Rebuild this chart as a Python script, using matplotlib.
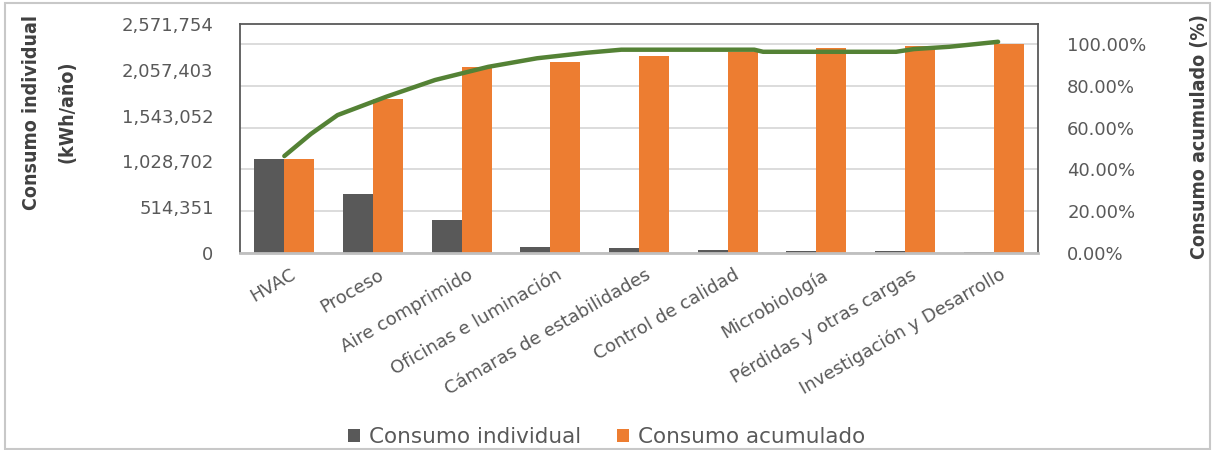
import numpy as np
import matplotlib
matplotlib.use("Agg")
import matplotlib.pyplot as plt
from matplotlib.patches import Rectangle

# data
categorias = ["HVAC", "Proceso", "Aire comprimido", "Oficinas e luminación",
              "Cámaras de estabilidades", "Control de calidad", "Microbiología",
              "Pérdidas y otras cargas", "Investigación y Desarrollo"]
individual = [1059000, 659000, 371000, 71000, 53000, 30000, 25000, 22000, 8000]
acumulado = [1059000, 1726000, 2085000, 2145000, 2212000, 2261000, 2299000, 2325000, 2347000]

# the green curve, read at several positions along the category axis
linea_pos = [0, 0.3, 0.6, 1.15, 1.7, 2.3, 2.85, 3.4, 3.8, 5.3, 5.4, 6.9, 7.1, 7.5, 7.8, 8.05]
linea_pct = [46.4, 57.0, 66.0, 74.8, 82.8, 89.1, 93.2, 95.8, 97.3, 97.3, 96.3, 96.3, 97.6, 98.7, 100.0, 101.1]

izq_ticks = [0, 514351, 1028702, 1543052, 2057403, 2571754]
izq_labels = ["0", "514,351", "1,028,702", "1,543,052", "2,057,403", "2,571,754"]
der_ticks = [0, 20, 40, 60, 80, 100]
der_max = 109.6

c_gris = "#595959"
c_naranja = "#ED7D31"
c_verde = "#548235"
c_texto = "#595959"
c_titulo = "#404040"

fig = plt.figure(figsize=(12.13, 4.5), dpi=100)
W, H = 1213, 450
ax_rect = [240 / W, 1 - 253 / H, (1038 - 240) / W, (253 - 24) / H]

# percent axis at the back: carries the gridlines and right ticks
ax2 = fig.add_axes(ax_rect)
ax2.set_ylim(0, der_max)
ax2.set_yticks(der_ticks)
ax2.set_yticklabels(["%.2f%%" % v for v in der_ticks])
ax2.yaxis.tick_right()
ax2.set_xticks([])
ax2.grid(axis="y", color="#d9d9d9", linewidth=1.3)
ax2.tick_params(axis="y", length=0, pad=21, labelsize=13, labelcolor=c_texto)
for s in ax2.spines.values():
    s.set_visible(False)

# bars on the left axis
ax = fig.add_axes(ax_rect)
ax.patch.set_visible(False)
x = np.arange(len(categorias))
w = 0.34
ax.bar(x - w / 2, individual, w, color=c_gris, label="Consumo individual")
ax.bar(x + w / 2, acumulado, w, color=c_naranja, label="Consumo acumulado")
ax.set_xlim(-0.5, len(categorias) - 0.5)
ax.set_ylim(0, izq_ticks[-1])
ax.set_yticks(izq_ticks)
ax.set_yticklabels(izq_labels)
ax.set_xticks(x + 0.06)
ax.set_xticklabels(categorias, rotation=30, ha="right", rotation_mode="anchor")
ax.tick_params(axis="y", length=0, pad=19, labelsize=13, labelcolor=c_texto)
ax.tick_params(axis="x", length=0, pad=9, labelsize=13, labelcolor=c_texto)
for k in ["left", "top", "right"]:
    ax.spines[k].set_color(c_gris)
    ax.spines[k].set_linewidth(1.3)
ax.spines["bottom"].set_color("#bfbfbf")
ax.spines["bottom"].set_linewidth(2)

# green curve on top
ax3 = fig.add_axes(ax_rect)
ax3.patch.set_visible(False)
ax3.set_xlim(-0.5, len(categorias) - 0.5)
ax3.set_ylim(0, der_max)
ax3.plot(linea_pos, linea_pct, color=c_verde, linewidth=3.2, solid_capstyle="round")
ax3.axis("off")

titulo = dict(rotation=90, ha="center", va="center", fontsize=14, fontweight="bold",
              color=c_titulo, family="DejaVu Sans", fontstretch="condensed")
fig.text(32 / W, 1 - 112 / H, "Consumo individual", **titulo)
fig.text(67 / W, 1 - 112 / H, "(kWh/año)", **titulo)
fig.text(1199 / W, 1 - 137 / H, "Consumo acumulado (%)", **titulo)

fig.legend(*ax.get_legend_handles_labels(), loc="center", bbox_to_anchor=(0.5, 1 - 437 / H),
           ncol=2, frameon=False, fontsize=15.5, labelcolor=c_texto,
           handlelength=0.55, handleheight=0.55, handletextpad=0.4, columnspacing=1.7)

fig.patches.append(Rectangle((5 / W, 1 / H), 1205 / W, 446 / H, transform=fig.transFigure,
                             fill=False, edgecolor="#c8c8c8", linewidth=1.5))

fig.savefig("out.png", dpi=100)
